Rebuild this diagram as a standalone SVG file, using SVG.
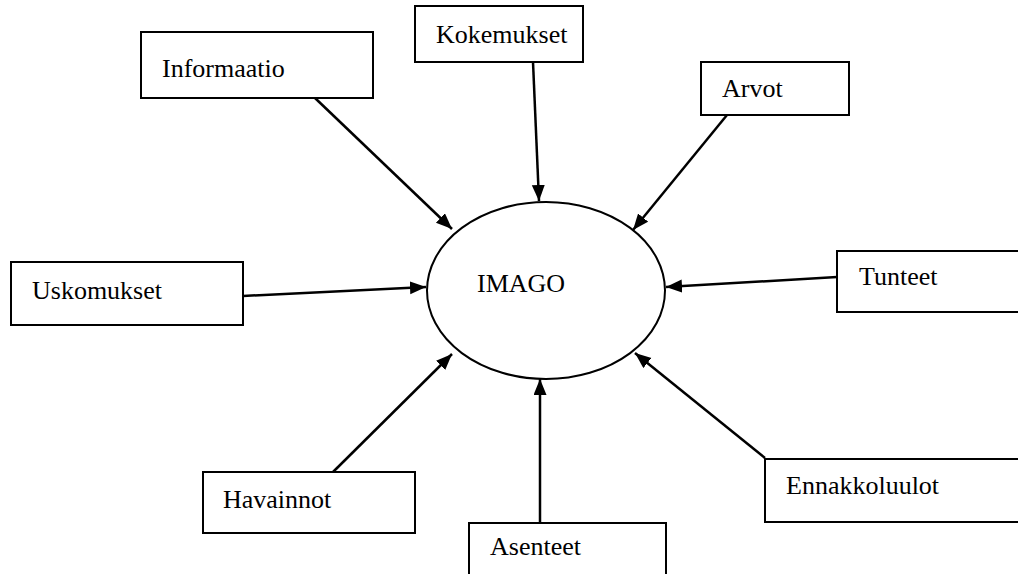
<svg xmlns="http://www.w3.org/2000/svg" width="1018" height="574" viewBox="0 0 1018 574">
<style>
.box{fill:#fff;stroke:#000;stroke-width:2}
text{font-family:'Liberation Serif','DejaVu Serif',serif;font-size:26px;fill:#000}
.con{stroke:#000;stroke-width:2.5;fill:none;marker-end:url(#ah)}
</style>
<defs>
<marker id="ah" markerUnits="userSpaceOnUse" markerWidth="18" markerHeight="14" refX="16" refY="6.5" orient="auto">
<path d="M0,0 L16,6.5 L0,13 z" fill="#000"/>
</marker>
</defs>
<rect width="1018" height="574" fill="#fff"/>
<g id="connectors">
<line class="con" x1="315" y1="98" x2="452" y2="229"/>
<line class="con" x1="533" y1="62" x2="539" y2="201"/>
<line class="con" x1="727" y1="115" x2="633" y2="230"/>
<line class="con" x1="837" y1="277" x2="666" y2="287"/>
<line class="con" x1="243" y1="296" x2="426" y2="287"/>
<line class="con" x1="333" y1="472" x2="452" y2="354"/>
<line class="con" x1="540" y1="523" x2="540" y2="379"/>
<line class="con" x1="765" y1="458" x2="635" y2="353"/>
</g>
<g id="imago">
<ellipse cx="546" cy="290.5" rx="119" ry="88.5" fill="#fff" stroke="#000" stroke-width="2"/>
<text x="477" y="292" font-family="Liberation Serif, serif">IMAGO</text>
</g>
<g id="informaatio">
<rect class="box" x="141" y="32" width="232" height="66"/>
<text x="162" y="77" font-family="Liberation Serif, serif">Informaatio</text>
</g>
<g id="kokemukset">
<rect class="box" x="415" y="6" width="168" height="56"/>
<text x="436" y="43" font-family="Liberation Serif, serif">Kokemukset</text>
</g>
<g id="arvot">
<rect class="box" x="701" y="62" width="148" height="53"/>
<text x="722" y="97" font-family="Liberation Serif, serif">Arvot</text>
</g>
<g id="tunteet">
<rect class="box" x="837" y="251" width="190" height="61"/>
<text x="859" y="285" font-family="Liberation Serif, serif">Tunteet</text>
</g>
<g id="uskomukset">
<rect class="box" x="11" y="262" width="232" height="63"/>
<text x="32" y="299" font-family="Liberation Serif, serif">Uskomukset</text>
</g>
<g id="havainnot">
<rect class="box" x="203" y="472" width="212" height="61"/>
<text x="223" y="508" font-family="Liberation Serif, serif">Havainnot</text>
</g>
<g id="asenteet">
<rect class="box" x="469" y="523" width="197" height="60"/>
<text x="490" y="555" font-family="Liberation Serif, serif">Asenteet</text>
</g>
<g id="ennakkoluulot">
<rect class="box" x="765" y="459" width="262" height="63"/>
<text x="786" y="494" font-family="Liberation Serif, serif">Ennakkoluulot</text>
</g>
</svg>
